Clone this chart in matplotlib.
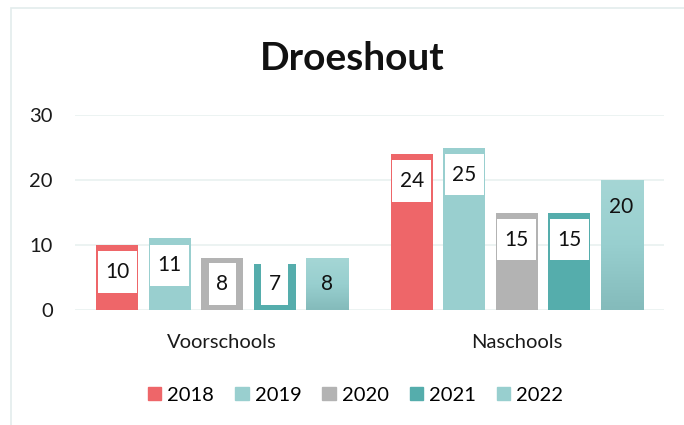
import numpy as np
import matplotlib.pyplot as plt
import matplotlib.patches as mpatches
from matplotlib.path import Path
from matplotlib.colors import LinearSegmentedColormap

plt.rcParams['font.family'] = ['Lato', 'DejaVu Sans']

categories = ['Voorschools', 'Naschools']
years = ['2018', '2019', '2020', '2021', '2022']
values = {
    '2018': [10, 24],
    '2019': [11, 25],
    '2020': [8, 15],
    '2021': [7, 15],
    '2022': [8, 20],
}
yticks = [0, 10, 20, 30]

colors = ['#ee6669', '#99cfcf', '#b3b3b3', '#55adac', '#98cfcf']
grad_top, grad_bottom = '#a5d6d5', '#84bbbb'


def label_box(x0, y0, width, height, mutation_size):
    # white label box, taller than wide padding like Excel data labels
    px, py = 0.35 * mutation_size, 0.52 * mutation_size
    x0, y0 = x0 - px, y0 - py
    x1, y1 = x0 + width + 2 * px, y0 + height + 2 * py
    return Path([(x0, y0), (x1, y0), (x1, y1), (x0, y1), (x0, y0)],
                closed=True)


fig = plt.figure(figsize=(6.84, 4.25), dpi=100)
ax = fig.add_axes([0.1096, 0.2706, 0.8612, 0.4588])

# chart border
fig.patches.append(mpatches.Rectangle((11 / 684, -0.01), 1.0, 1 - 8 / 425 + 0.01,
                                      transform=fig.transFigure, fill=False,
                                      ec='#e3ecec', lw=1.2))

x = np.arange(len(categories))
step = 0.178
width = 0.143
bars = []
for i, yr in enumerate(years):
    b = ax.bar(x + (i - 2) * step, values[yr], width, color=colors[i],
               label=yr, zorder=2)
    bars.append(b)

ax.set_xlim(-0.5, 1.5)
ax.set_ylim(0, 30)
ax.set_yticks(yticks)
ax.grid(axis='y', color='#eaf2f1', lw=1.3, zorder=0)
for s in ax.spines.values():
    s.set_visible(False)
ax.tick_params(axis='both', length=0, labelsize=14.5, colors='#1a1a1a')
ax.tick_params(axis='y', pad=16)
ax.tick_params(axis='x', pad=17)
ax.set_xticks(x)
ax.set_xticklabels(categories)

# gradient fill for 2022
grad = np.linspace(0, 1, 100).reshape(-1, 1)
cmap = LinearSegmentedColormap.from_list('g', [grad_bottom, colors[4], grad_top])
for p in bars[4]:
    x0, y0 = p.get_x(), p.get_y()
    im = ax.imshow(grad, cmap=cmap, origin='lower', aspect='auto',
                   extent=(x0, x0 + p.get_width(), y0, y0 + p.get_height()),
                   zorder=2.5)
    im.set_clip_path(p)
ax.set_xlim(-0.5, 1.5)
ax.set_ylim(0, 30)

# data labels: inside end, white box except the last series
px_per_unit = (ax.transData.transform((0, 10))[1] - ax.transData.transform((0, 0))[1]) / 10
off = 27 / px_per_unit
min_c = 26 / px_per_unit
for i, yr in enumerate(years):
    for p, v in zip(bars[i], values[yr]):
        yc = max(v - off, min_c)
        box = None
        if i < 4:
            box = dict(boxstyle=label_box, fc='white', ec='none')
        ax.text(p.get_x() + p.get_width() / 2, yc, str(v), ha='center', va='center',
                fontsize=15, color='#111111', bbox=box, zorder=4)

fig.text(0.515, 0.862, 'Droeshout', ha='center', va='center', fontsize=28,
         fontweight='bold', color='#111111')

handles = [mpatches.Patch(color=c) for c in colors]
ax.legend(handles, years, loc='center', bbox_to_anchor=(0.52, 0.0705),
          bbox_transform=fig.transFigure, ncol=5, frameon=False, fontsize=14.5,
          handlelength=0.65, handleheight=0.65, handletextpad=0.3,
          columnspacing=1.05)

fig.savefig('out.png', dpi=100)
